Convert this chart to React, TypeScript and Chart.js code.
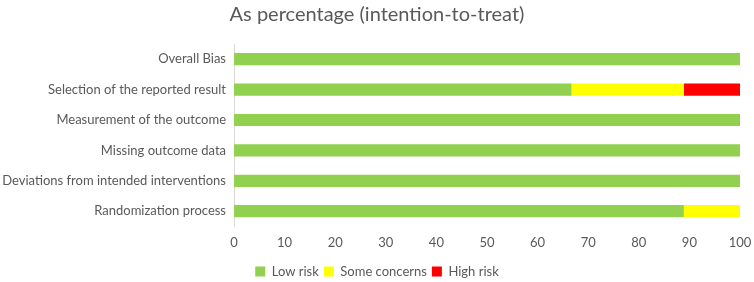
import React, { useEffect, useRef } from "react";
import { Chart, registerables } from "chart.js";

Chart.register(...registerables);

const categories = [
  "Overall Bias",
  "Selection of the reported result",
  "Measurement of the outcome",
  "Missing outcome data",
  "Deviations from intended interventions",
  "Randomization process",
];
const lowRisk = [100, 66.7, 100, 100, 100, 88.9];
const someConcerns = [0, 22.2, 0, 0, 0, 11.1];
const highRisk = [0, 11.1, 0, 0, 0, 0];
const xTicks = [0, 10, 20, 30, 40, 50, 60, 70, 80, 90, 100];

const FONT = "Lato, 'Open Sans', sans-serif";
const TEXT = "#595959";

export default function App() {
  const ref = useRef<HTMLCanvasElement | null>(null);
  useEffect(() => {
    document.body.style.margin = "0";
    const ctx = ref.current!;
    const common = { barPercentage: 0.8, categoryPercentage: 0.5, borderWidth: 0 };
    const chart = new Chart(ctx, {
      type: "bar",
      data: {
        labels: categories,
        datasets: [
          { label: "Low risk", data: lowRisk, backgroundColor: "#92D050", ...common },
          { label: "Some concerns", data: someConcerns, backgroundColor: "#FFFF00", ...common },
          { label: "High risk", data: highRisk, backgroundColor: "#FF0000", ...common },
        ],
      },
      options: {
        indexAxis: "y",
        animation: false,
        responsive: true,
        maintainAspectRatio: false,
        layout: { padding: { left: 0, right: 0, top: 0, bottom: -6 } },
        plugins: {
          title: {
            display: true,
            text: "As percentage (intention-to-treat)",
            color: TEXT,
            font: { family: FONT, size: 20, weight: "normal" },
            padding: { top: 3, bottom: 17 },
          },
          legend: {
            position: "bottom",
            labels: {
              color: TEXT,
              font: { family: FONT, size: 13 },
              boxWidth: 10,
              boxHeight: 10,
              padding: 5,
            },
          },
          tooltip: { enabled: false },
        },
        scales: {
          x: {
            stacked: true,
            min: 0,
            max: 100,
            afterBuildTicks: (axis: any) => {
              axis.ticks = xTicks.map((v) => ({ value: v }));
            },
            afterFit: (axis: any) => {
              axis.paddingRight = 14;
            },
            grid: { display: false, drawTicks: false },
            border: { display: false },
            ticks: {
              color: TEXT,
              font: { family: FONT, size: 13 },
              padding: 9,
              maxRotation: 0,
            },
          },
          y: {
            stacked: true,
            afterFit: (axis: any) => {
              axis.width = 234;
            },
            grid: { display: false, drawTicks: false },
            border: { display: true, color: "#D9D9D9", width: 1 },
            ticks: {
              color: TEXT,
              font: { family: FONT, size: 13 },
              padding: 8,
            },
          },
        },
      },
    });
    return () => chart.destroy();
  }, []);
  return (
    <div style={{ width: 754, height: 282, position: "relative", background: "#fff" }}>
      <canvas ref={ref} />
    </div>
  );
}
